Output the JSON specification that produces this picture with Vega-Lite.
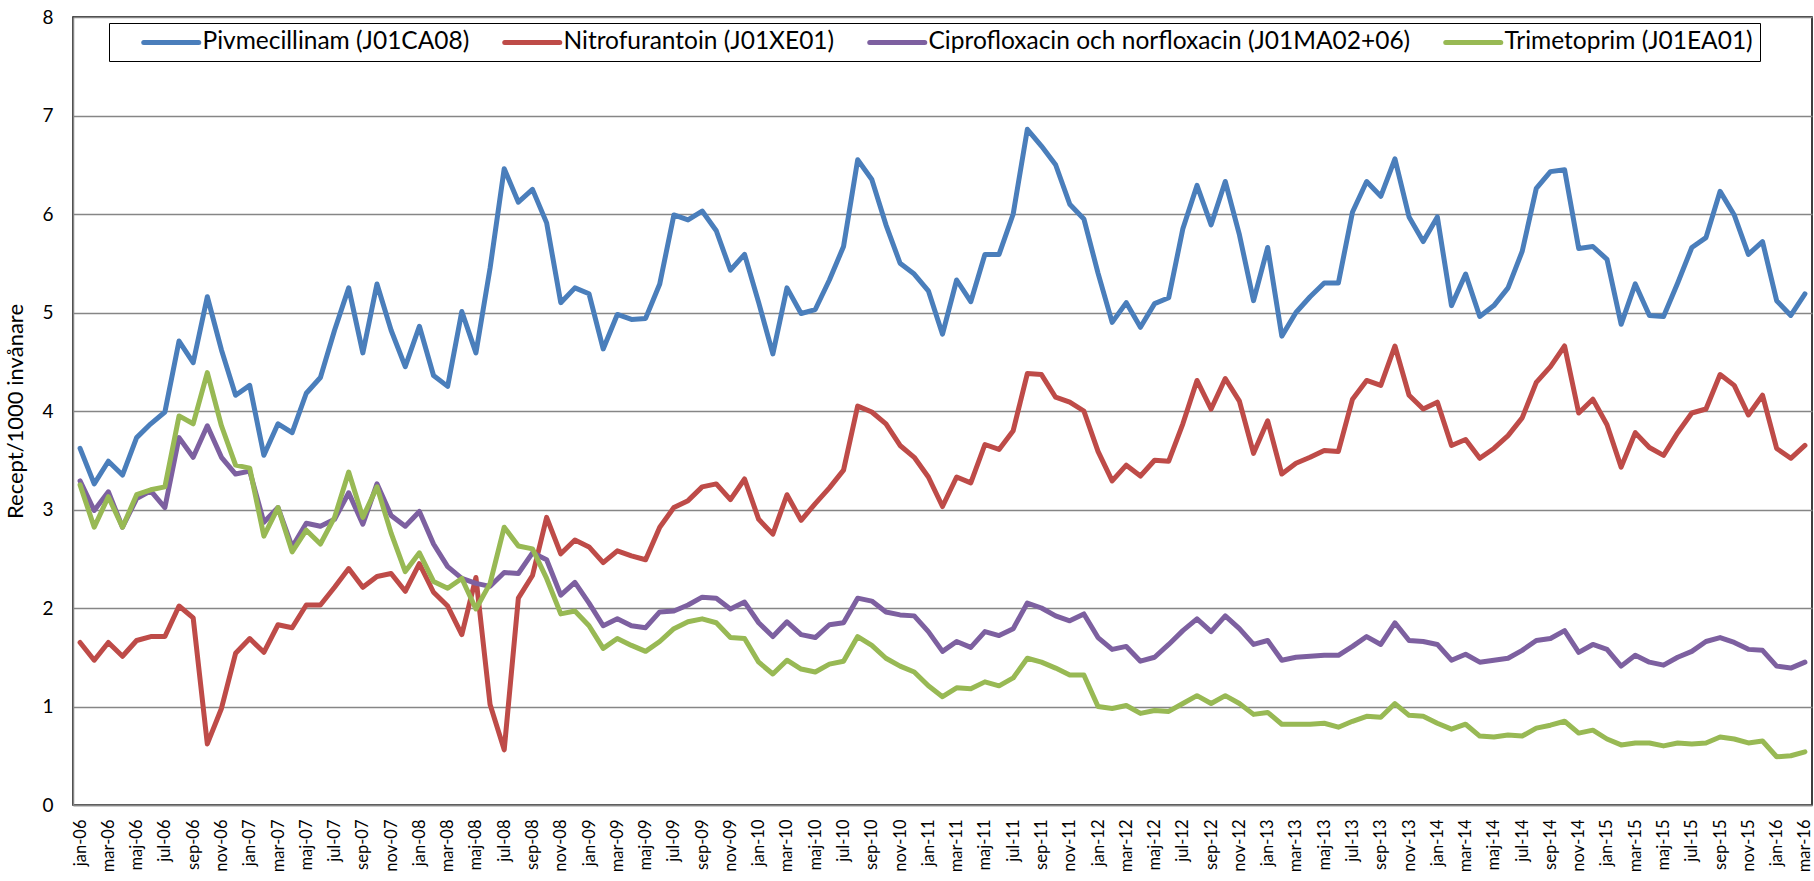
{
"$schema": "https://vega.github.io/schema/vega-lite/v6.json",
"width": 1739, "height": 788,
"autosize": {"type": "none"},
"padding": {"left": 73, "top": 17, "right": 2, "bottom": 76},
"background": "white",
"config": {"font": "Lato", "view": {"stroke": "black", "strokeWidth": 1.5}},
"datasets": {
"names": [
{"s": "P", "name": "Pivmecillinam (J01CA08)"},
{"s": "N", "name": "Nitrofurantoin (J01XE01)"},
{"s": "C", "name": "Ciprofloxacin och norfloxacin (J01MA02+06)"},
{"s": "T", "name": "Trimetoprim (J01EA01)"}
]
},
"data": {"values": [
{"m":"jan-06","s":"P","v":3.62},{"m":"feb-06","s":"P","v":3.26},{"m":"mar-06","s":"P","v":3.49},{"m":"apr-06","s":"P","v":3.35},{"m":"maj-06","s":"P","v":3.73},{"m":"jun-06","s":"P","v":3.87},{"m":"jul-06","s":"P","v":3.99},{"m":"aug-06","s":"P","v":4.71},{"m":"sep-06","s":"P","v":4.49},{"m":"okt-06","s":"P","v":5.16},{"m":"nov-06","s":"P","v":4.62},{"m":"dec-06","s":"P","v":4.16},
{"m":"jan-07","s":"P","v":4.26},{"m":"feb-07","s":"P","v":3.55},{"m":"mar-07","s":"P","v":3.87},{"m":"apr-07","s":"P","v":3.78},{"m":"maj-07","s":"P","v":4.18},{"m":"jun-07","s":"P","v":4.34},{"m":"jul-07","s":"P","v":4.82},{"m":"aug-07","s":"P","v":5.25},{"m":"sep-07","s":"P","v":4.59},{"m":"okt-07","s":"P","v":5.29},{"m":"nov-07","s":"P","v":4.82},{"m":"dec-07","s":"P","v":4.45},
{"m":"jan-08","s":"P","v":4.86},{"m":"feb-08","s":"P","v":4.36},{"m":"mar-08","s":"P","v":4.25},{"m":"apr-08","s":"P","v":5.01},{"m":"maj-08","s":"P","v":4.59},{"m":"jun-08","s":"P","v":5.45},{"m":"jul-08","s":"P","v":6.46},{"m":"aug-08","s":"P","v":6.12},{"m":"sep-08","s":"P","v":6.25},{"m":"okt-08","s":"P","v":5.91},{"m":"nov-08","s":"P","v":5.10},{"m":"dec-08","s":"P","v":5.25},
{"m":"jan-09","s":"P","v":5.19},{"m":"feb-09","s":"P","v":4.63},{"m":"mar-09","s":"P","v":4.98},{"m":"apr-09","s":"P","v":4.93},{"m":"maj-09","s":"P","v":4.94},{"m":"jun-09","s":"P","v":5.29},{"m":"jul-09","s":"P","v":5.99},{"m":"aug-09","s":"P","v":5.94},{"m":"sep-09","s":"P","v":6.03},{"m":"okt-09","s":"P","v":5.83},{"m":"nov-09","s":"P","v":5.43},{"m":"dec-09","s":"P","v":5.59},
{"m":"jan-10","s":"P","v":5.10},{"m":"feb-10","s":"P","v":4.58},{"m":"mar-10","s":"P","v":5.25},{"m":"apr-10","s":"P","v":4.99},{"m":"maj-10","s":"P","v":5.03},{"m":"jun-10","s":"P","v":5.33},{"m":"jul-10","s":"P","v":5.67},{"m":"aug-10","s":"P","v":6.55},{"m":"sep-10","s":"P","v":6.35},{"m":"okt-10","s":"P","v":5.89},{"m":"nov-10","s":"P","v":5.50},{"m":"dec-10","s":"P","v":5.39},
{"m":"jan-11","s":"P","v":5.22},{"m":"feb-11","s":"P","v":4.78},{"m":"mar-11","s":"P","v":5.33},{"m":"apr-11","s":"P","v":5.11},{"m":"maj-11","s":"P","v":5.59},{"m":"jun-11","s":"P","v":5.59},{"m":"jul-11","s":"P","v":6.00},{"m":"aug-11","s":"P","v":6.86},{"m":"sep-11","s":"P","v":6.69},{"m":"okt-11","s":"P","v":6.50},{"m":"nov-11","s":"P","v":6.10},{"m":"dec-11","s":"P","v":5.95},
{"m":"jan-12","s":"P","v":5.40},{"m":"feb-12","s":"P","v":4.90},{"m":"mar-12","s":"P","v":5.10},{"m":"apr-12","s":"P","v":4.85},{"m":"maj-12","s":"P","v":5.09},{"m":"jun-12","s":"P","v":5.15},{"m":"jul-12","s":"P","v":5.85},{"m":"aug-12","s":"P","v":6.29},{"m":"sep-12","s":"P","v":5.89},{"m":"okt-12","s":"P","v":6.33},{"m":"nov-12","s":"P","v":5.79},{"m":"dec-12","s":"P","v":5.12},
{"m":"jan-13","s":"P","v":5.66},{"m":"feb-13","s":"P","v":4.76},{"m":"mar-13","s":"P","v":5.00},{"m":"apr-13","s":"P","v":5.16},{"m":"maj-13","s":"P","v":5.30},{"m":"jun-13","s":"P","v":5.30},{"m":"jul-13","s":"P","v":6.02},{"m":"aug-13","s":"P","v":6.33},{"m":"sep-13","s":"P","v":6.18},{"m":"okt-13","s":"P","v":6.56},{"m":"nov-13","s":"P","v":5.97},{"m":"dec-13","s":"P","v":5.72},
{"m":"jan-14","s":"P","v":5.97},{"m":"feb-14","s":"P","v":5.07},{"m":"mar-14","s":"P","v":5.39},{"m":"apr-14","s":"P","v":4.96},{"m":"maj-14","s":"P","v":5.07},{"m":"jun-14","s":"P","v":5.25},{"m":"jul-14","s":"P","v":5.62},{"m":"aug-14","s":"P","v":6.26},{"m":"sep-14","s":"P","v":6.43},{"m":"okt-14","s":"P","v":6.45},{"m":"nov-14","s":"P","v":5.65},{"m":"dec-14","s":"P","v":5.67},
{"m":"jan-15","s":"P","v":5.54},{"m":"feb-15","s":"P","v":4.88},{"m":"mar-15","s":"P","v":5.29},{"m":"apr-15","s":"P","v":4.97},{"m":"maj-15","s":"P","v":4.96},{"m":"jun-15","s":"P","v":5.30},{"m":"jul-15","s":"P","v":5.66},{"m":"aug-15","s":"P","v":5.76},{"m":"sep-15","s":"P","v":6.23},{"m":"okt-15","s":"P","v":5.99},{"m":"nov-15","s":"P","v":5.59},{"m":"dec-15","s":"P","v":5.72},
{"m":"jan-16","s":"P","v":5.12},{"m":"feb-16","s":"P","v":4.97},{"m":"mar-16","s":"P","v":5.19},
{"m":"jan-06","s":"N","v":1.65},{"m":"feb-06","s":"N","v":1.47},{"m":"mar-06","s":"N","v":1.65},{"m":"apr-06","s":"N","v":1.51},{"m":"maj-06","s":"N","v":1.67},{"m":"jun-06","s":"N","v":1.71},{"m":"jul-06","s":"N","v":1.71},{"m":"aug-06","s":"N","v":2.02},{"m":"sep-06","s":"N","v":1.90},{"m":"okt-06","s":"N","v":0.62},{"m":"nov-06","s":"N","v":0.98},{"m":"dec-06","s":"N","v":1.54},
{"m":"jan-07","s":"N","v":1.69},{"m":"feb-07","s":"N","v":1.55},{"m":"mar-07","s":"N","v":1.83},{"m":"apr-07","s":"N","v":1.80},{"m":"maj-07","s":"N","v":2.03},{"m":"jun-07","s":"N","v":2.03},{"m":"jul-07","s":"N","v":2.21},{"m":"aug-07","s":"N","v":2.40},{"m":"sep-07","s":"N","v":2.21},{"m":"okt-07","s":"N","v":2.32},{"m":"nov-07","s":"N","v":2.35},{"m":"dec-07","s":"N","v":2.17},
{"m":"jan-08","s":"N","v":2.45},{"m":"feb-08","s":"N","v":2.16},{"m":"mar-08","s":"N","v":2.02},{"m":"apr-08","s":"N","v":1.73},{"m":"maj-08","s":"N","v":2.31},{"m":"jun-08","s":"N","v":1.02},{"m":"jul-08","s":"N","v":0.56},{"m":"aug-08","s":"N","v":2.10},{"m":"sep-08","s":"N","v":2.33},{"m":"okt-08","s":"N","v":2.92},{"m":"nov-08","s":"N","v":2.55},{"m":"dec-08","s":"N","v":2.69},
{"m":"jan-09","s":"N","v":2.62},{"m":"feb-09","s":"N","v":2.46},{"m":"mar-09","s":"N","v":2.58},{"m":"apr-09","s":"N","v":2.53},{"m":"maj-09","s":"N","v":2.49},{"m":"jun-09","s":"N","v":2.82},{"m":"jul-09","s":"N","v":3.02},{"m":"aug-09","s":"N","v":3.09},{"m":"sep-09","s":"N","v":3.23},{"m":"okt-09","s":"N","v":3.26},{"m":"nov-09","s":"N","v":3.10},{"m":"dec-09","s":"N","v":3.31},
{"m":"jan-10","s":"N","v":2.90},{"m":"feb-10","s":"N","v":2.75},{"m":"mar-10","s":"N","v":3.15},{"m":"apr-10","s":"N","v":2.89},{"m":"maj-10","s":"N","v":3.06},{"m":"jun-10","s":"N","v":3.22},{"m":"jul-10","s":"N","v":3.40},{"m":"aug-10","s":"N","v":4.05},{"m":"sep-10","s":"N","v":3.99},{"m":"okt-10","s":"N","v":3.87},{"m":"nov-10","s":"N","v":3.65},{"m":"dec-10","s":"N","v":3.53},
{"m":"jan-11","s":"N","v":3.33},{"m":"feb-11","s":"N","v":3.03},{"m":"mar-11","s":"N","v":3.33},{"m":"apr-11","s":"N","v":3.27},{"m":"maj-11","s":"N","v":3.66},{"m":"jun-11","s":"N","v":3.61},{"m":"jul-11","s":"N","v":3.80},{"m":"aug-11","s":"N","v":4.38},{"m":"sep-11","s":"N","v":4.37},{"m":"okt-11","s":"N","v":4.14},{"m":"nov-11","s":"N","v":4.09},{"m":"dec-11","s":"N","v":4.00},
{"m":"jan-12","s":"N","v":3.59},{"m":"feb-12","s":"N","v":3.29},{"m":"mar-12","s":"N","v":3.45},{"m":"apr-12","s":"N","v":3.34},{"m":"maj-12","s":"N","v":3.50},{"m":"jun-12","s":"N","v":3.49},{"m":"jul-12","s":"N","v":3.87},{"m":"aug-12","s":"N","v":4.31},{"m":"sep-12","s":"N","v":4.02},{"m":"okt-12","s":"N","v":4.33},{"m":"nov-12","s":"N","v":4.10},{"m":"dec-12","s":"N","v":3.57},
{"m":"jan-13","s":"N","v":3.90},{"m":"feb-13","s":"N","v":3.36},{"m":"mar-13","s":"N","v":3.47},{"m":"apr-13","s":"N","v":3.53},{"m":"maj-13","s":"N","v":3.60},{"m":"jun-13","s":"N","v":3.59},{"m":"jul-13","s":"N","v":4.12},{"m":"aug-13","s":"N","v":4.31},{"m":"sep-13","s":"N","v":4.26},{"m":"okt-13","s":"N","v":4.66},{"m":"nov-13","s":"N","v":4.16},{"m":"dec-13","s":"N","v":4.02},
{"m":"jan-14","s":"N","v":4.09},{"m":"feb-14","s":"N","v":3.65},{"m":"mar-14","s":"N","v":3.71},{"m":"apr-14","s":"N","v":3.52},{"m":"maj-14","s":"N","v":3.62},{"m":"jun-14","s":"N","v":3.75},{"m":"jul-14","s":"N","v":3.93},{"m":"aug-14","s":"N","v":4.29},{"m":"sep-14","s":"N","v":4.45},{"m":"okt-14","s":"N","v":4.66},{"m":"nov-14","s":"N","v":3.98},{"m":"dec-14","s":"N","v":4.12},
{"m":"jan-15","s":"N","v":3.86},{"m":"feb-15","s":"N","v":3.43},{"m":"mar-15","s":"N","v":3.78},{"m":"apr-15","s":"N","v":3.63},{"m":"maj-15","s":"N","v":3.55},{"m":"jun-15","s":"N","v":3.78},{"m":"jul-15","s":"N","v":3.98},{"m":"aug-15","s":"N","v":4.02},{"m":"sep-15","s":"N","v":4.37},{"m":"okt-15","s":"N","v":4.26},{"m":"nov-15","s":"N","v":3.96},{"m":"dec-15","s":"N","v":4.16},
{"m":"jan-16","s":"N","v":3.62},{"m":"feb-16","s":"N","v":3.52},{"m":"mar-16","s":"N","v":3.65},
{"m":"jan-06","s":"C","v":3.29},{"m":"feb-06","s":"C","v":2.99},{"m":"mar-06","s":"C","v":3.18},{"m":"apr-06","s":"C","v":2.82},{"m":"maj-06","s":"C","v":3.11},{"m":"jun-06","s":"C","v":3.19},{"m":"jul-06","s":"C","v":3.02},{"m":"aug-06","s":"C","v":3.73},{"m":"sep-06","s":"C","v":3.53},{"m":"okt-06","s":"C","v":3.85},{"m":"nov-06","s":"C","v":3.53},{"m":"dec-06","s":"C","v":3.36},
{"m":"jan-07","s":"C","v":3.39},{"m":"feb-07","s":"C","v":2.87},{"m":"mar-07","s":"C","v":3.02},{"m":"apr-07","s":"C","v":2.62},{"m":"maj-07","s":"C","v":2.86},{"m":"jun-07","s":"C","v":2.83},{"m":"jul-07","s":"C","v":2.90},{"m":"aug-07","s":"C","v":3.17},{"m":"sep-07","s":"C","v":2.85},{"m":"okt-07","s":"C","v":3.26},{"m":"nov-07","s":"C","v":2.94},{"m":"dec-07","s":"C","v":2.83},
{"m":"jan-08","s":"C","v":2.98},{"m":"feb-08","s":"C","v":2.65},{"m":"mar-08","s":"C","v":2.42},{"m":"apr-08","s":"C","v":2.30},{"m":"maj-08","s":"C","v":2.25},{"m":"jun-08","s":"C","v":2.22},{"m":"jul-08","s":"C","v":2.36},{"m":"aug-08","s":"C","v":2.35},{"m":"sep-08","s":"C","v":2.56},{"m":"okt-08","s":"C","v":2.49},{"m":"nov-08","s":"C","v":2.13},{"m":"dec-08","s":"C","v":2.26},
{"m":"jan-09","s":"C","v":2.05},{"m":"feb-09","s":"C","v":1.82},{"m":"mar-09","s":"C","v":1.89},{"m":"apr-09","s":"C","v":1.82},{"m":"maj-09","s":"C","v":1.80},{"m":"jun-09","s":"C","v":1.96},{"m":"jul-09","s":"C","v":1.97},{"m":"aug-09","s":"C","v":2.03},{"m":"sep-09","s":"C","v":2.11},{"m":"okt-09","s":"C","v":2.10},{"m":"nov-09","s":"C","v":1.99},{"m":"dec-09","s":"C","v":2.06},
{"m":"jan-10","s":"C","v":1.85},{"m":"feb-10","s":"C","v":1.71},{"m":"mar-10","s":"C","v":1.86},{"m":"apr-10","s":"C","v":1.73},{"m":"maj-10","s":"C","v":1.70},{"m":"jun-10","s":"C","v":1.83},{"m":"jul-10","s":"C","v":1.85},{"m":"aug-10","s":"C","v":2.10},{"m":"sep-10","s":"C","v":2.07},{"m":"okt-10","s":"C","v":1.96},{"m":"nov-10","s":"C","v":1.93},{"m":"dec-10","s":"C","v":1.92},
{"m":"jan-11","s":"C","v":1.76},{"m":"feb-11","s":"C","v":1.56},{"m":"mar-11","s":"C","v":1.66},{"m":"apr-11","s":"C","v":1.60},{"m":"maj-11","s":"C","v":1.76},{"m":"jun-11","s":"C","v":1.72},{"m":"jul-11","s":"C","v":1.79},{"m":"aug-11","s":"C","v":2.05},{"m":"sep-11","s":"C","v":2.00},{"m":"okt-11","s":"C","v":1.92},{"m":"nov-11","s":"C","v":1.87},{"m":"dec-11","s":"C","v":1.94},
{"m":"jan-12","s":"C","v":1.70},{"m":"feb-12","s":"C","v":1.58},{"m":"mar-12","s":"C","v":1.61},{"m":"apr-12","s":"C","v":1.46},{"m":"maj-12","s":"C","v":1.50},{"m":"jun-12","s":"C","v":1.63},{"m":"jul-12","s":"C","v":1.77},{"m":"aug-12","s":"C","v":1.89},{"m":"sep-12","s":"C","v":1.76},{"m":"okt-12","s":"C","v":1.92},{"m":"nov-12","s":"C","v":1.79},{"m":"dec-12","s":"C","v":1.63},
{"m":"jan-13","s":"C","v":1.67},{"m":"feb-13","s":"C","v":1.47},{"m":"mar-13","s":"C","v":1.50},{"m":"apr-13","s":"C","v":1.51},{"m":"maj-13","s":"C","v":1.52},{"m":"jun-13","s":"C","v":1.52},{"m":"jul-13","s":"C","v":1.61},{"m":"aug-13","s":"C","v":1.71},{"m":"sep-13","s":"C","v":1.63},{"m":"okt-13","s":"C","v":1.85},{"m":"nov-13","s":"C","v":1.67},{"m":"dec-13","s":"C","v":1.66},
{"m":"jan-14","s":"C","v":1.63},{"m":"feb-14","s":"C","v":1.47},{"m":"mar-14","s":"C","v":1.53},{"m":"apr-14","s":"C","v":1.45},{"m":"maj-14","s":"C","v":1.47},{"m":"jun-14","s":"C","v":1.49},{"m":"jul-14","s":"C","v":1.57},{"m":"aug-14","s":"C","v":1.67},{"m":"sep-14","s":"C","v":1.69},{"m":"okt-14","s":"C","v":1.77},{"m":"nov-14","s":"C","v":1.55},{"m":"dec-14","s":"C","v":1.63},
{"m":"jan-15","s":"C","v":1.58},{"m":"feb-15","s":"C","v":1.41},{"m":"mar-15","s":"C","v":1.52},{"m":"apr-15","s":"C","v":1.45},{"m":"maj-15","s":"C","v":1.42},{"m":"jun-15","s":"C","v":1.50},{"m":"jul-15","s":"C","v":1.56},{"m":"aug-15","s":"C","v":1.66},{"m":"sep-15","s":"C","v":1.70},{"m":"okt-15","s":"C","v":1.65},{"m":"nov-15","s":"C","v":1.58},{"m":"dec-15","s":"C","v":1.57},
{"m":"jan-16","s":"C","v":1.41},{"m":"feb-16","s":"C","v":1.39},{"m":"mar-16","s":"C","v":1.45},
{"m":"jan-06","s":"T","v":3.25},{"m":"feb-06","s":"T","v":2.82},{"m":"mar-06","s":"T","v":3.13},{"m":"apr-06","s":"T","v":2.82},{"m":"maj-06","s":"T","v":3.15},{"m":"jun-06","s":"T","v":3.20},{"m":"jul-06","s":"T","v":3.23},{"m":"aug-06","s":"T","v":3.95},{"m":"sep-06","s":"T","v":3.87},{"m":"okt-06","s":"T","v":4.39},{"m":"nov-06","s":"T","v":3.85},{"m":"dec-06","s":"T","v":3.45},
{"m":"jan-07","s":"T","v":3.42},{"m":"feb-07","s":"T","v":2.73},{"m":"mar-07","s":"T","v":3.02},{"m":"apr-07","s":"T","v":2.57},{"m":"maj-07","s":"T","v":2.79},{"m":"jun-07","s":"T","v":2.65},{"m":"jul-07","s":"T","v":2.92},{"m":"aug-07","s":"T","v":3.38},{"m":"sep-07","s":"T","v":2.92},{"m":"okt-07","s":"T","v":3.23},{"m":"nov-07","s":"T","v":2.76},{"m":"dec-07","s":"T","v":2.37},
{"m":"jan-08","s":"T","v":2.56},{"m":"feb-08","s":"T","v":2.27},{"m":"mar-08","s":"T","v":2.20},{"m":"apr-08","s":"T","v":2.30},{"m":"maj-08","s":"T","v":1.99},{"m":"jun-08","s":"T","v":2.25},{"m":"jul-08","s":"T","v":2.82},{"m":"aug-08","s":"T","v":2.63},{"m":"sep-08","s":"T","v":2.60},{"m":"okt-08","s":"T","v":2.30},{"m":"nov-08","s":"T","v":1.94},{"m":"dec-08","s":"T","v":1.97},
{"m":"jan-09","s":"T","v":1.82},{"m":"feb-09","s":"T","v":1.59},{"m":"mar-09","s":"T","v":1.69},{"m":"apr-09","s":"T","v":1.62},{"m":"maj-09","s":"T","v":1.56},{"m":"jun-09","s":"T","v":1.66},{"m":"jul-09","s":"T","v":1.79},{"m":"aug-09","s":"T","v":1.86},{"m":"sep-09","s":"T","v":1.89},{"m":"okt-09","s":"T","v":1.85},{"m":"nov-09","s":"T","v":1.70},{"m":"dec-09","s":"T","v":1.69},
{"m":"jan-10","s":"T","v":1.45},{"m":"feb-10","s":"T","v":1.33},{"m":"mar-10","s":"T","v":1.47},{"m":"apr-10","s":"T","v":1.38},{"m":"maj-10","s":"T","v":1.35},{"m":"jun-10","s":"T","v":1.43},{"m":"jul-10","s":"T","v":1.46},{"m":"aug-10","s":"T","v":1.71},{"m":"sep-10","s":"T","v":1.62},{"m":"okt-10","s":"T","v":1.49},{"m":"nov-10","s":"T","v":1.41},{"m":"dec-10","s":"T","v":1.35},
{"m":"jan-11","s":"T","v":1.21},{"m":"feb-11","s":"T","v":1.10},{"m":"mar-11","s":"T","v":1.19},{"m":"apr-11","s":"T","v":1.18},{"m":"maj-11","s":"T","v":1.25},{"m":"jun-11","s":"T","v":1.21},{"m":"jul-11","s":"T","v":1.29},{"m":"aug-11","s":"T","v":1.49},{"m":"sep-11","s":"T","v":1.45},{"m":"okt-11","s":"T","v":1.39},{"m":"nov-11","s":"T","v":1.32},{"m":"dec-11","s":"T","v":1.32},
{"m":"jan-12","s":"T","v":1.00},{"m":"feb-12","s":"T","v":0.98},{"m":"mar-12","s":"T","v":1.01},{"m":"apr-12","s":"T","v":0.93},{"m":"maj-12","s":"T","v":0.96},{"m":"jun-12","s":"T","v":0.95},{"m":"jul-12","s":"T","v":1.03},{"m":"aug-12","s":"T","v":1.11},{"m":"sep-12","s":"T","v":1.03},{"m":"okt-12","s":"T","v":1.11},{"m":"nov-12","s":"T","v":1.03},{"m":"dec-12","s":"T","v":0.92},
{"m":"jan-13","s":"T","v":0.94},{"m":"feb-13","s":"T","v":0.82},{"m":"mar-13","s":"T","v":0.82},{"m":"apr-13","s":"T","v":0.82},{"m":"maj-13","s":"T","v":0.83},{"m":"jun-13","s":"T","v":0.79},{"m":"jul-13","s":"T","v":0.85},{"m":"aug-13","s":"T","v":0.90},{"m":"sep-13","s":"T","v":0.89},{"m":"okt-13","s":"T","v":1.03},{"m":"nov-13","s":"T","v":0.91},{"m":"dec-13","s":"T","v":0.90},
{"m":"jan-14","s":"T","v":0.83},{"m":"feb-14","s":"T","v":0.77},{"m":"mar-14","s":"T","v":0.82},{"m":"apr-14","s":"T","v":0.70},{"m":"maj-14","s":"T","v":0.69},{"m":"jun-14","s":"T","v":0.71},{"m":"jul-14","s":"T","v":0.70},{"m":"aug-14","s":"T","v":0.78},{"m":"sep-14","s":"T","v":0.81},{"m":"okt-14","s":"T","v":0.85},{"m":"nov-14","s":"T","v":0.73},{"m":"dec-14","s":"T","v":0.76},
{"m":"jan-15","s":"T","v":0.67},{"m":"feb-15","s":"T","v":0.61},{"m":"mar-15","s":"T","v":0.63},{"m":"apr-15","s":"T","v":0.63},{"m":"maj-15","s":"T","v":0.60},{"m":"jun-15","s":"T","v":0.63},{"m":"jul-15","s":"T","v":0.62},{"m":"aug-15","s":"T","v":0.63},{"m":"sep-15","s":"T","v":0.69},{"m":"okt-15","s":"T","v":0.67},{"m":"nov-15","s":"T","v":0.63},{"m":"dec-15","s":"T","v":0.65},
{"m":"jan-16","s":"T","v":0.49},{"m":"feb-16","s":"T","v":0.50},{"m":"mar-16","s":"T","v":0.54}
]},
"transform": [
{"lookup": "s", "from": {"data": {"name": "names"}, "key": "s", "fields": ["name"]}}
],
"mark": {"type": "line", "strokeWidth": 5, "strokeJoin": "round", "strokeCap": "round"},
"encoding": {
"x": {"field": "m", "type": "ordinal", "sort": null,
"scale": {"type": "point", "padding": 0.5},
"axis": {"title": null, "labelAngle": -90, "labelFontSize": 16.5, "labelColor": "black", "ticks": false, "tickSize": 0, "labelPadding": 14, "labelOverlap": false,
"domainColor": "#868686", "domainWidth": 1.5, "grid": false,
"values": ["jan-06","mar-06","maj-06","jul-06","sep-06","nov-06","jan-07","mar-07","maj-07","jul-07","sep-07","nov-07","jan-08","mar-08","maj-08","jul-08","sep-08","nov-08","jan-09","mar-09","maj-09","jul-09","sep-09","nov-09","jan-10","mar-10","maj-10","jul-10","sep-10","nov-10","jan-11","mar-11","maj-11","jul-11","sep-11","nov-11","jan-12","mar-12","maj-12","jul-12","sep-12","nov-12","jan-13","mar-13","maj-13","jul-13","sep-13","nov-13","jan-14","mar-14","maj-14","jul-14","sep-14","nov-14","jan-15","mar-15","maj-15","jul-15","sep-15","nov-15","jan-16","mar-16"]}},
"y": {"field": "v", "type": "quantitative", "scale": {"domain": [0, 8], "nice": false},
"axis": {"title": "Recept/1000 invånare", "titleFontSize": 22, "titleFontWeight": "normal", "titleColor": "black", "titlePadding": 14,
"labelFontSize": 19, "labelColor": "black", "values": [0,1,2,3,4,5,6,7,8], "ticks": false, "tickSize": 0, "labelPadding": 20,
"gridColor": "#868686", "gridWidth": 1.5, "domainColor": "#868686", "domainWidth": 1.5}},
"color": {"field": "name", "type": "nominal",
"scale": {"domain": ["Pivmecillinam (J01CA08)", "Nitrofurantoin (J01XE01)", "Ciprofloxacin och norfloxacin (J01MA02+06)", "Trimetoprim (J01EA01)"],
"range": ["#4A7EBB", "#BE4B48", "#7D60A0", "#98B954"]},
"legend": {"title": null, "orient": "none", "legendX": 36, "legendY": 6, "direction": "horizontal", "columns": 4,
"symbolType": "M-5,0H5", "symbolSize": 121, "symbolStrokeWidth": 5, "symbolOffset": 43, "labelOffset": 19,
"labelFontSize": 24.5, "labelColor": "black", "labelLimit": 0, "columnPadding": 7,
"strokeColor": "black", "fillColor": "white", "padding": 7,
"symbolFillColor": "transparent",
"encode": {"symbols": {"update": {"strokeCap": {"value": "round"}}}}}}
}
}
